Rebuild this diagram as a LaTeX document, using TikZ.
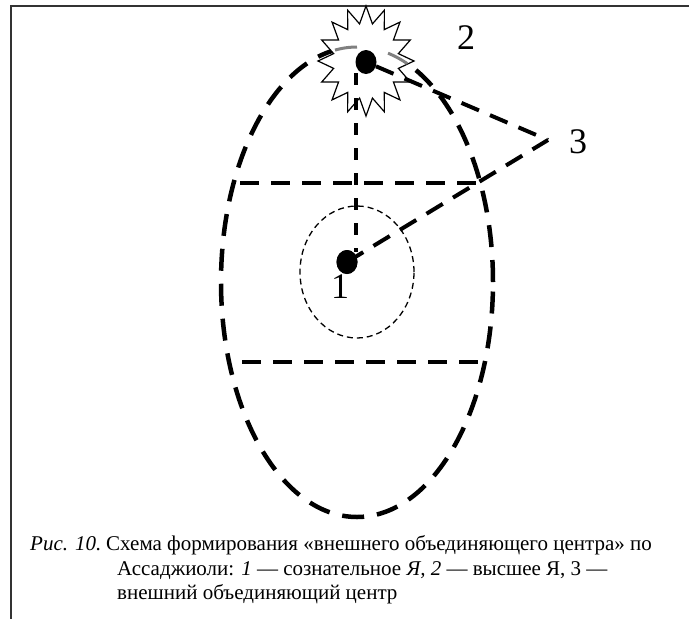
\documentclass[tikz,border=0pt]{standalone}
\usepackage{fontspec}
\setmainfont{Liberation Serif}
\usetikzlibrary{shapes.geometric}
\begin{document}
\begin{tikzpicture}[x=1pt,y=-1pt,
  bigdash/.style={line width=4.5pt, dash pattern=on 22pt off 13pt},
  hdash/.style={line width=4pt, dash pattern=on 19pt off 12pt},
  vdash/.style={line width=3.5pt, dash pattern=on 12pt off 13pt},
  thindash/.style={line width=1.3pt, dash pattern=on 6pt off 4pt},
  greyarc/.style={line width=3pt, draw=black!50},
  starline/.style={line width=1.2pt, draw=black, fill=white, line join=miter},
  dotnode/.style={ellipse, fill=black, minimum width=21pt, minimum height=24pt, inner sep=0pt},
  numlabel/.style={font=\fontsize{36}{40}\selectfont, inner sep=0pt},
  captext/.style={font=\fontsize{21}{25}\selectfont, anchor=base west, inner sep=0pt},
  frameline/.style={line width=1.6pt, draw=black!80}
]
\useasboundingbox (0,0) rectangle (689,619);
% frame
\coordinate (ftr) at (689,6);
\coordinate (ftl) at (11,6);
\coordinate (fbl) at (11,619);
\draw[frameline] (ftr) -- (ftl) -- (fbl);
% big ellipse
\draw[bigdash] (357,282) ellipse [x radius=136pt, y radius=235pt];
% horizontal lines
\coordinate (h1a) at (240,183); \coordinate (h1b) at (476,183);
\coordinate (h2a) at (242,362); \coordinate (h2b) at (480,362);
\draw[hdash] (h1a) -- (h1b);
\draw[hdash] (h2a) -- (h2b);
% small circle
\draw[thindash] (357,272) ellipse [x radius=57pt, y radius=66pt];
% star
\draw[starline] plot[samples=33, domain=0:32, variable=\k]
  ({366+(40.5+7.5*cos(\k*180))*sin(\k*11.25)}, {61-1.146*(40.5+7.5*cos(\k*180))*cos(\k*11.25)}) -- cycle;
% grey arcs (part of the big ellipse inside the star)
\draw[greyarc] plot[domain=90:99.3, samples=12] ({357+136*cos(\x)}, {282-235*sin(\x)});
\draw[greyarc] plot[domain=68.4:76.8, samples=12] ({357+136*cos(\x)}, {282-235*sin(\x)});
% points
\coordinate (p3) at (548,140);
\node[dotnode] (d1) at (347,262) {};
\node[dotnode] (d2) at (366,62) {};
\coordinate (vtop) at (356,73);
\coordinate (vbot) at (356,252);
\draw[vdash] (vtop) -- (vbot);
\draw[hdash] (d1.center) -- (p3);
\draw[hdash] (d2) -- (p3);
\node[dotnode] at (d1) {};
% labels
\node[numlabel] (l1) at (340,287) {1};
\node[numlabel] (l2) at (466,38) {2};
\node[numlabel] (l3) at (578,142) {3};
% caption
\node[captext] (c1a) at (30,550) {\textit{Рис. 10.}};
\node[captext] (c1b) at (106,550) {Схема формирования «внешнего объединяющего центра» по};
\node[captext] (c2) at (117,575) {Ассаджиоли: \textit{1} — сознательное \textit{Я, 2} — высшее Я, 3 —};
\node[captext] (c3) at (117,599) {внешний объединяющий центр};
\end{tikzpicture}
\end{document}
